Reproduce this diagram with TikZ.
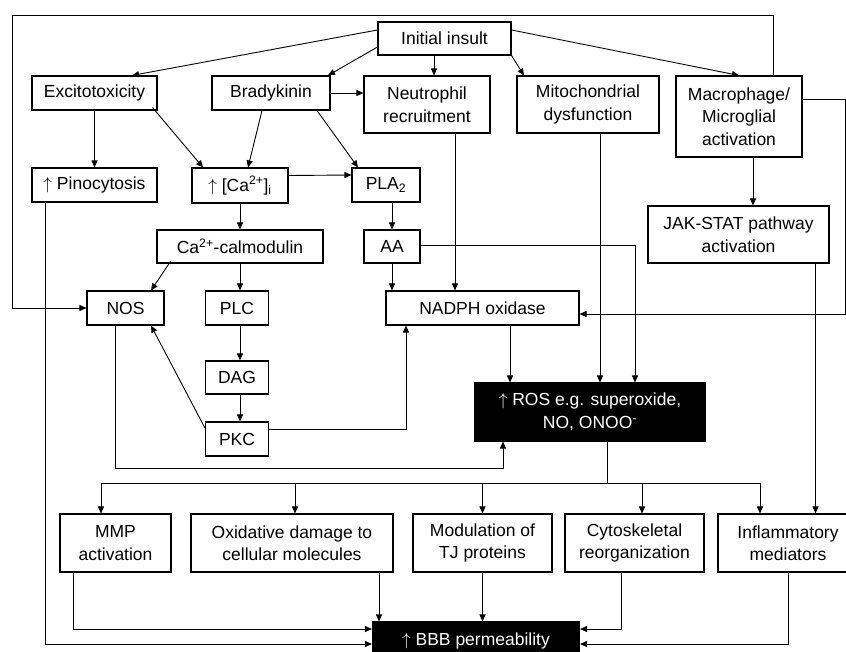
\documentclass[tikz,border=0pt]{standalone}
\usepackage{fontspec}
\setmainfont{Liberation Sans}
\usepackage{amsmath}
\usepackage{tikz}
\usetikzlibrary{arrows.meta}

\begin{document}
\begin{tikzpicture}[x=1pt,y=1pt,
        box/.style={draw, line width=1.1pt, align=center, inner sep=1pt,
            font=\fontsize{17.5}{22.5}\selectfont},
        dark/.style={box, fill=black, text=white},
        arr/.style={line width=0.9pt, -{Triangle[length=7pt,width=6pt]}},
        ln/.style={line width=0.9pt}]
    \useasboundingbox (0,0) rectangle (846,-651);

    \node[box, minimum width=133pt, minimum height=33pt] (insult) at (444.5,-38.5) {Initial insult};
    \node[box, minimum width=125pt, minimum height=34pt] (excito) at (94.5,-93) {Excitotoxicity};
    \node[box, minimum width=118pt, minimum height=34pt] (brady) at (271,-93) {Bradykinin};
    \node[box, minimum width=126pt, minimum height=57pt] (neutro) at (427,-104.5) {Neutrophil\\recruitment};
    \node[box, minimum width=142pt, minimum height=57pt] (mito) at (588,-104.5) {Mitochondrial\\dysfunction};
    \node[box, minimum width=126pt, minimum height=81pt] (macro) at (739,-116.5) {Macrophage/\\Microglial\\activation};
    \node[box, minimum width=125pt, minimum height=34pt] (pino) at (94.5,-185) {$\uparrow$ Pinocytosis};
    \node[box, minimum width=96pt, minimum height=35pt] (cai) at (240,-185.5) {$\uparrow$ [Ca\textsuperscript{2+}]\textsubscript{i}};
    \node[box, minimum width=68pt, minimum height=34pt] (pla) at (386,-185) {PLA\textsubscript{2}};
    \node[box, minimum width=166pt, minimum height=33pt] (calmod) at (240,-246.5) {Ca\textsuperscript{2+}-calmodulin};
    \node[box, minimum width=56pt, minimum height=33pt] (aa) at (392,-246.5) {AA};
    \node[box, minimum width=181pt, minimum height=57pt] (jak) at (738.5,-234.5) {JAK-STAT pathway\\activation};
    \node[box, minimum width=77pt, minimum height=34pt] (nos) at (125.5,-308) {NOS};
    \node[box, minimum width=63pt, minimum height=34pt] (plc) at (237,-308) {PLC};
    \node[box, minimum width=193pt, minimum height=34pt] (nadph) at (482.5,-308) {NADPH oxidase};
    \node[box, minimum width=63pt, minimum height=33pt] (dag) at (237,-377.5) {DAG};
    \node[box, minimum width=63pt, minimum height=34pt] (pkc) at (237,-439) {PKC};
    \node[dark, minimum width=230pt, minimum height=58pt] (ros) at (590,-412) {$\uparrow$ ROS e.g. superoxide,\\NO, ONOO\textsuperscript{-}};
    \node[box, minimum width=111pt, minimum height=58pt] (mmp) at (115.5,-543) {MMP\\activation};
    \node[box, minimum width=202pt, minimum height=58pt] (oxid) at (292,-543) {Oxidative damage to\\cellular molecules};
    \node[box, minimum width=139pt, minimum height=58pt] (tj) at (482.5,-543) {Modulation of\\TJ proteins};
    \node[box, minimum width=139pt, minimum height=58pt] (cyto) at (634.5,-543) {Cytoskeletal\\reorganization};
    \node[box, minimum width=140pt, minimum height=58pt] (inflam) at (788,-543) {Inflammatory\\mediators};
    \node[dark, minimum width=207pt, minimum height=38pt] (bbb) at (476,-641) {$\uparrow$ BBB permeability};

    \coordinate (corner) at (12,-15);
    \coordinate (redge) at (845,-99);

    \draw[arr] ([yshift=8.5pt]insult.west) -- ([xshift=37.5pt]excito.north);
    \draw[arr] ([yshift=-8.5pt]insult.west) -- ([xshift=57pt]brady.north);
    \draw[arr] ([xshift=-10.5pt]insult.south) -- ([xshift=-10.5pt]insult.south |- neutro.north);
    \draw[arr] (insult.south east) -- ([xshift=-64pt]mito.north);
    \draw[arr] ([yshift=8.5pt]insult.east) -- (macro.north);
    \draw[arr] ([xshift=34pt]macro.north) |- (corner) |- (nos.west);
    \draw[arr] ([yshift=17.5pt]macro.east) -- (redge) |- ([yshift=-6pt]nadph.east);
    \draw[arr] (brady.east) -- (brady.east -| neutro.west);
    \draw[arr] (excito.south) -- (pino.north);
    \draw[arr] ([xshift=-5pt,yshift=3pt]excito.south east) -- ([xshift=-37pt]cai.north);
    \draw[arr] ([xshift=-9pt]brady.south) -- ([xshift=8pt]cai.north);
    \draw[arr] ([xshift=46pt]brady.south) -- ([xshift=-28pt]pla.north);
    \draw[arr] ([yshift=10pt]cai.east) -- ([yshift=10pt]pla.west);
    \draw[arr] (cai.south) -- (calmod.north);
    \draw[arr] (aa.north |- pla.south) -- (aa.north);
    \draw[arr] ([xshift=14pt,yshift=2pt]calmod.south west) -- ([xshift=25.5pt]nos.north);
    \draw[arr] ([xshift=3pt]plc.north |- calmod.south) -- ([xshift=3pt]plc.north);
    \draw[arr] ([xshift=3pt]plc.south) -- ([xshift=3pt]dag.north);
    \draw[arr] ([xshift=3pt]dag.south) -- ([xshift=3pt]pkc.north);
    \draw[arr] ([yshift=11pt]pkc.west) -- ([xshift=25.5pt]nos.south);
    \draw[arr] ([yshift=10pt]pkc.east) -| ([xshift=-76.5pt]nadph.south);
    \draw[arr] (aa.south) -- (aa.south |- nadph.north);
    \draw[arr] ([yshift=1.5pt]aa.east) -| ([xshift=45pt]ros.north);
    \draw[arr] ([xshift=28pt]neutro.south) -- ([xshift=28pt]neutro.south |- nadph.north);
    \draw[arr] ([xshift=12pt]mito.south) -- ([xshift=12pt]mito.south |- ros.north);
    \draw[arr] ([xshift=27.5pt]nadph.south) -- ([xshift=27.5pt]nadph.south |- ros.north);
    \draw[arr] ([xshift=-10.5pt]nos.south) -- ++(0,-143) -| ([xshift=-87pt]ros.south);
    \draw[arr] ([xshift=14pt]macro.south) -- ([xshift=14pt]macro.south |- jak.north);
    \draw[arr] ([xshift=77pt]jak.south) -- ([xshift=77pt]jak.south |- inflam.north);

    \draw[ln] ([xshift=17pt]ros.south) -- ++(0,-42) coordinate (bus);
    \draw[arr] (bus) -| ([xshift=-14.5pt]mmp.north);
    \draw[arr] (bus) -| ([xshift=3pt]oxid.north);
    \draw[arr] (bus) -| (tj.north);
    \draw[arr] (bus) -| ([xshift=7.5pt]cyto.north);
    \draw[arr] (bus) -| ([xshift=-28pt]inflam.north);

    \draw[arr] ([xshift=-49.5pt]pino.south) |- ([yshift=-3pt]bbb.west);
    \draw[arr] ([xshift=-42.5pt]mmp.south) |- ([yshift=12pt]bbb.west);
    \draw[arr] ([xshift=87pt]oxid.south) -- ([xshift=87pt]oxid.south |- bbb.north);
    \draw[arr] (tj.south) -- (tj.south |- bbb.north);
    \draw[arr] ([xshift=-13.5pt]cyto.south) |- ([yshift=12pt]bbb.east);
    \draw[arr] (inflam.south) |- ([yshift=-3pt]bbb.east);
\end{tikzpicture}
\end{document}
